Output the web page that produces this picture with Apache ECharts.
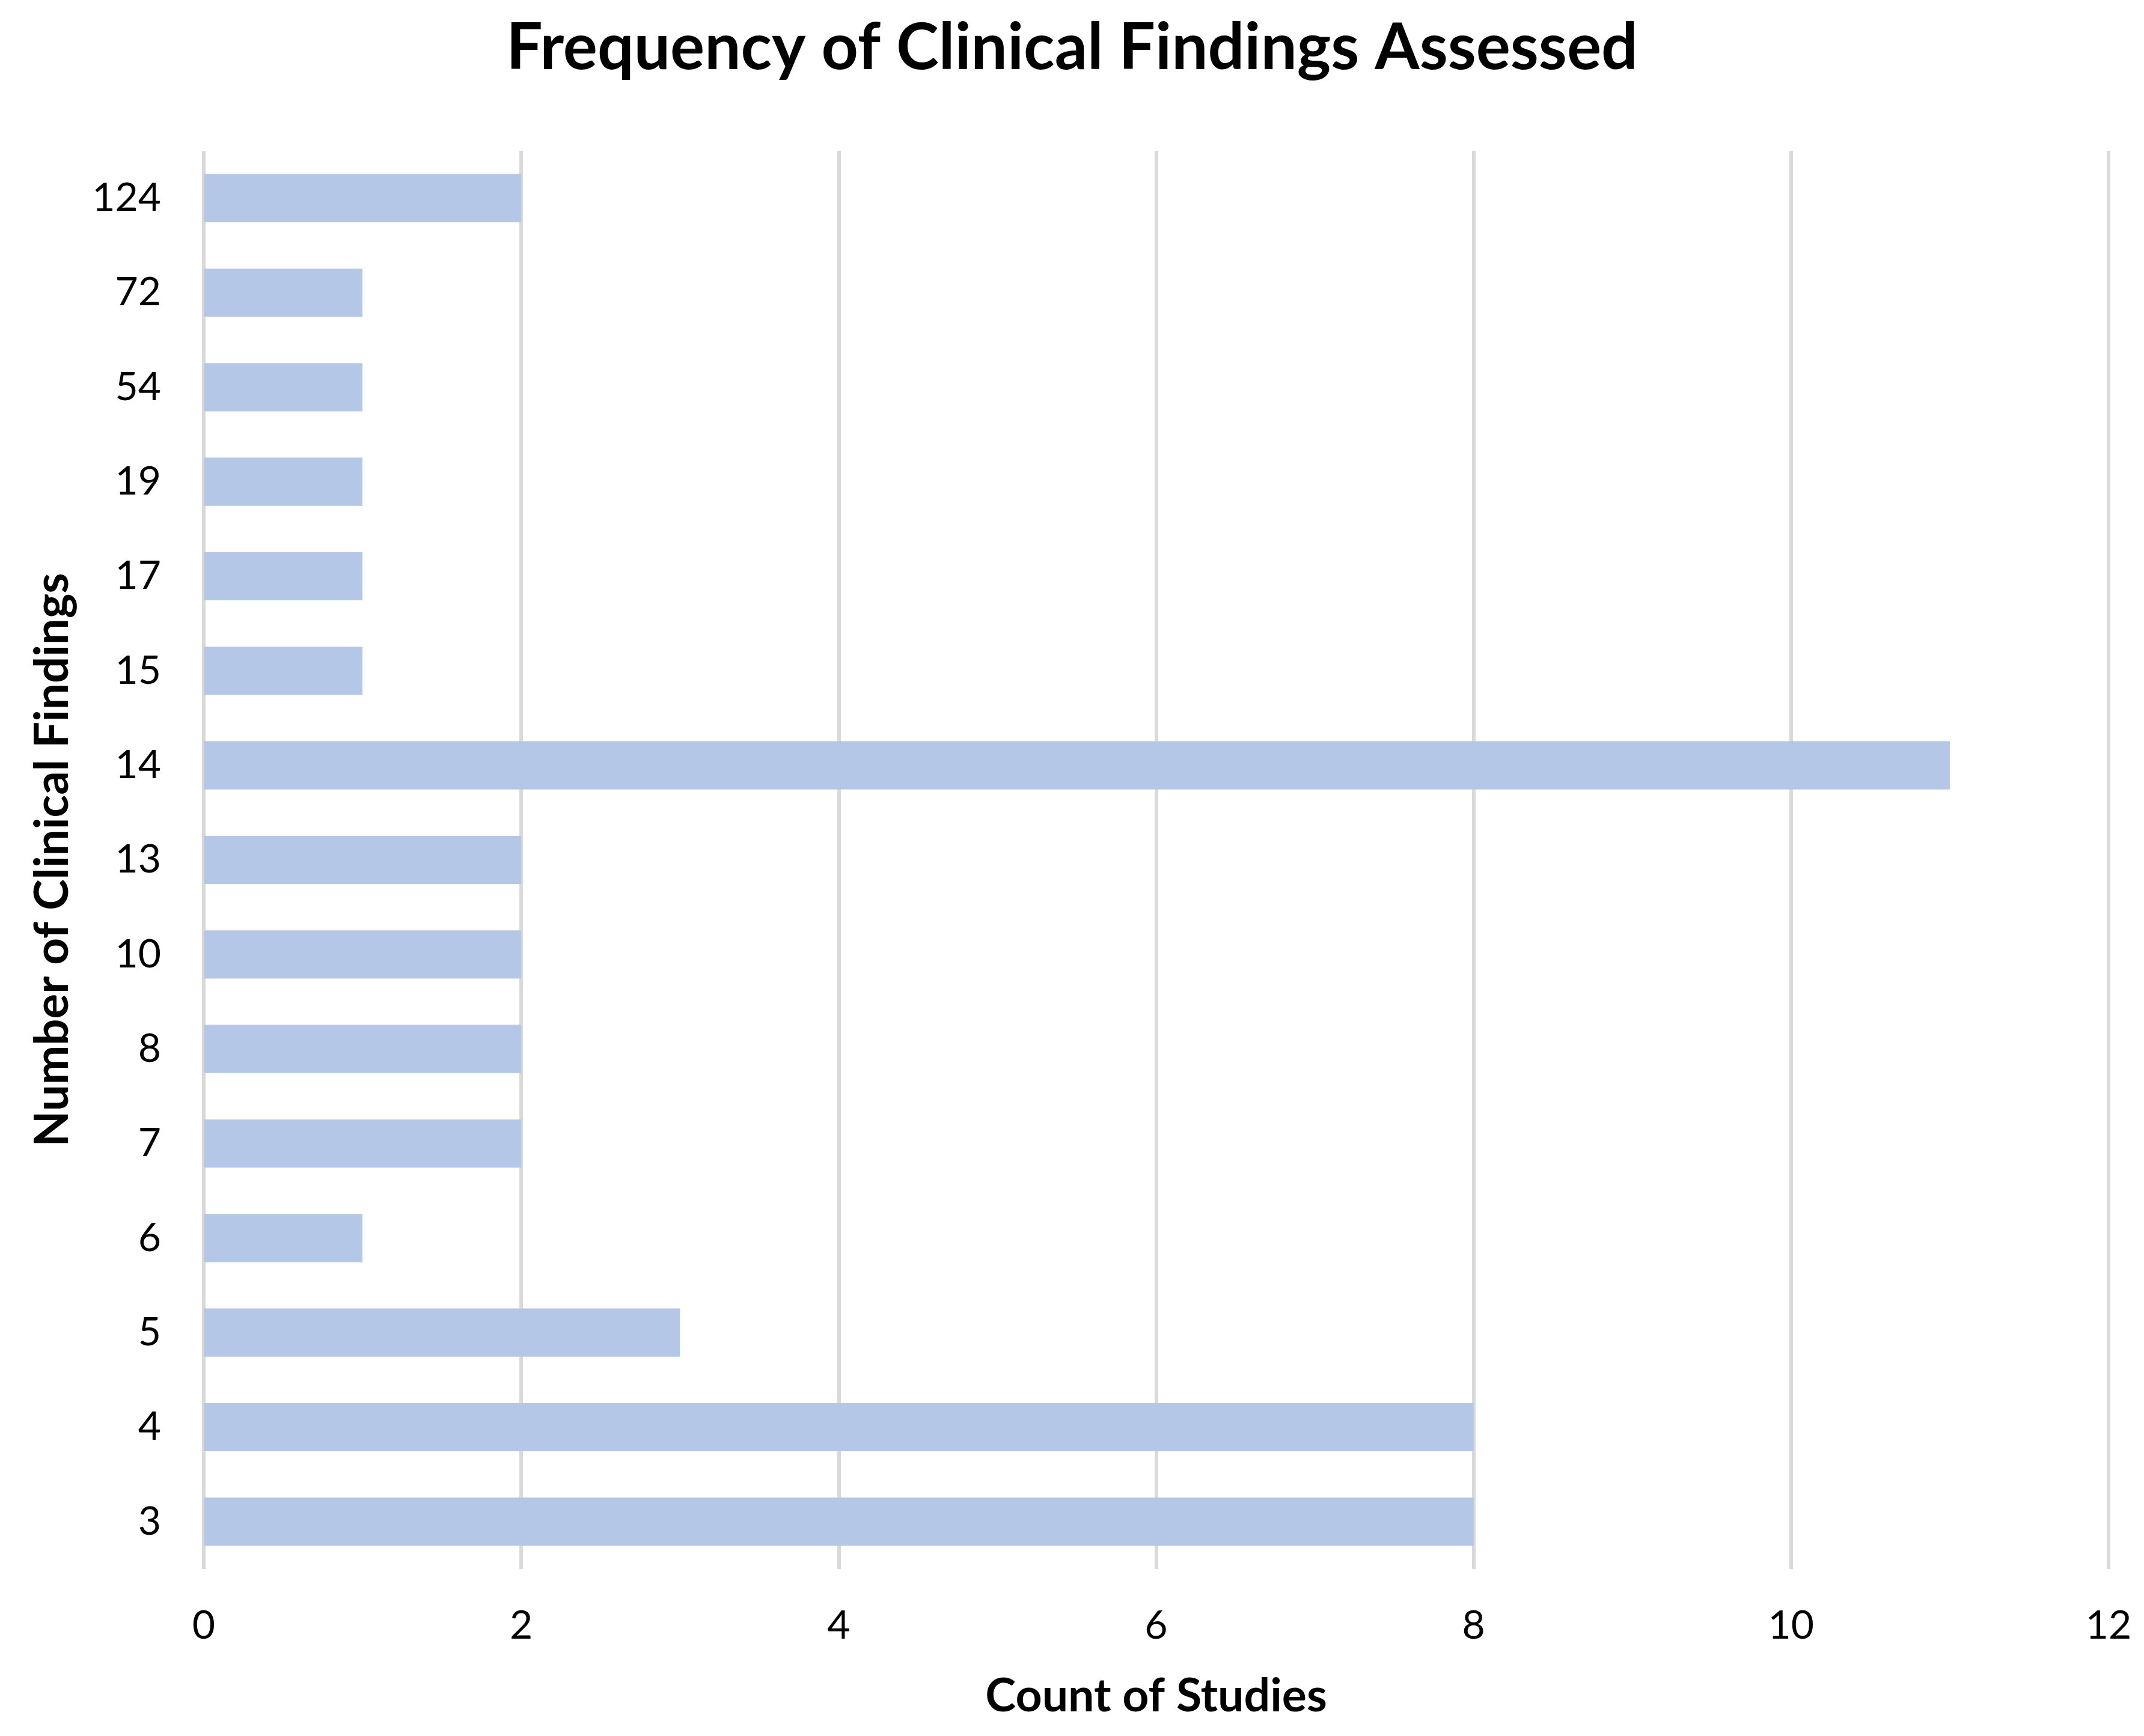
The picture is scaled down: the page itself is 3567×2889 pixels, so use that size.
<!DOCTYPE html>
<html>
<head>
<meta charset="utf-8">
<script src="https://cdn.jsdelivr.net/npm/echarts@6/dist/echarts.min.js"></script>
<style>html,body{margin:0;padding:0;background:#fff;}#c{width:3567px;height:2889px;}</style>
</head>
<body>
<div id="c"></div>
<script>
const categories = ['3','4','5','6','7','8','10','13','14','15','17','19','54','72','124'];
const counts = [8,8,3,1,2,2,2,2,11,1,1,1,1,1,2];
const xTicks = {min:0, max:12, interval:2};
const titleText = 'Frequency of Clinical Findings Assessed';
const xName = 'Count of Studies';
const yName = 'Number of Clinical Findings';

const FONT = 'Lato';
const chart = echarts.init(document.getElementById('c'), null, {renderer:'canvas'});
chart.setOption({
  animation:false,
  backgroundColor:'#ffffff',
  title:{text:titleText,left:'center',top:22,textStyle:{fontFamily:FONT,fontWeight:'bold',fontSize:107,color:'#000'}},
  grid:{left:339,right:59,top:251,bottom:278,containLabel:false},
  xAxis:{type:'value',min:xTicks.min,max:xTicks.max,interval:xTicks.interval,
    axisLine:{show:false},axisTick:{show:false},
    splitLine:{show:true,lineStyle:{color:'#d9d9d9',width:6}},
    axisLabel:{fontFamily:FONT,fontSize:66,color:'#000',margin:62},
    name:xName,nameLocation:'middle',nameGap:174,
    nameTextStyle:{fontFamily:FONT,fontWeight:'bold',fontSize:77,color:'#000'}},
  yAxis:{type:'category',data:categories,
    axisLine:{show:false},axisTick:{show:false},splitLine:{show:false},
    axisLabel:{fontFamily:FONT,fontSize:66,color:'#000',margin:71},
    name:yName,nameLocation:'middle',nameGap:212,nameRotate:90,
    nameTextStyle:{fontFamily:FONT,fontWeight:'bold',fontSize:78,color:'#000'}},
  series:[{type:'bar',data:counts,barCategoryGap:'49%',itemStyle:{color:'#b4c7e7'}}]
});
</script>
</body>
</html>
